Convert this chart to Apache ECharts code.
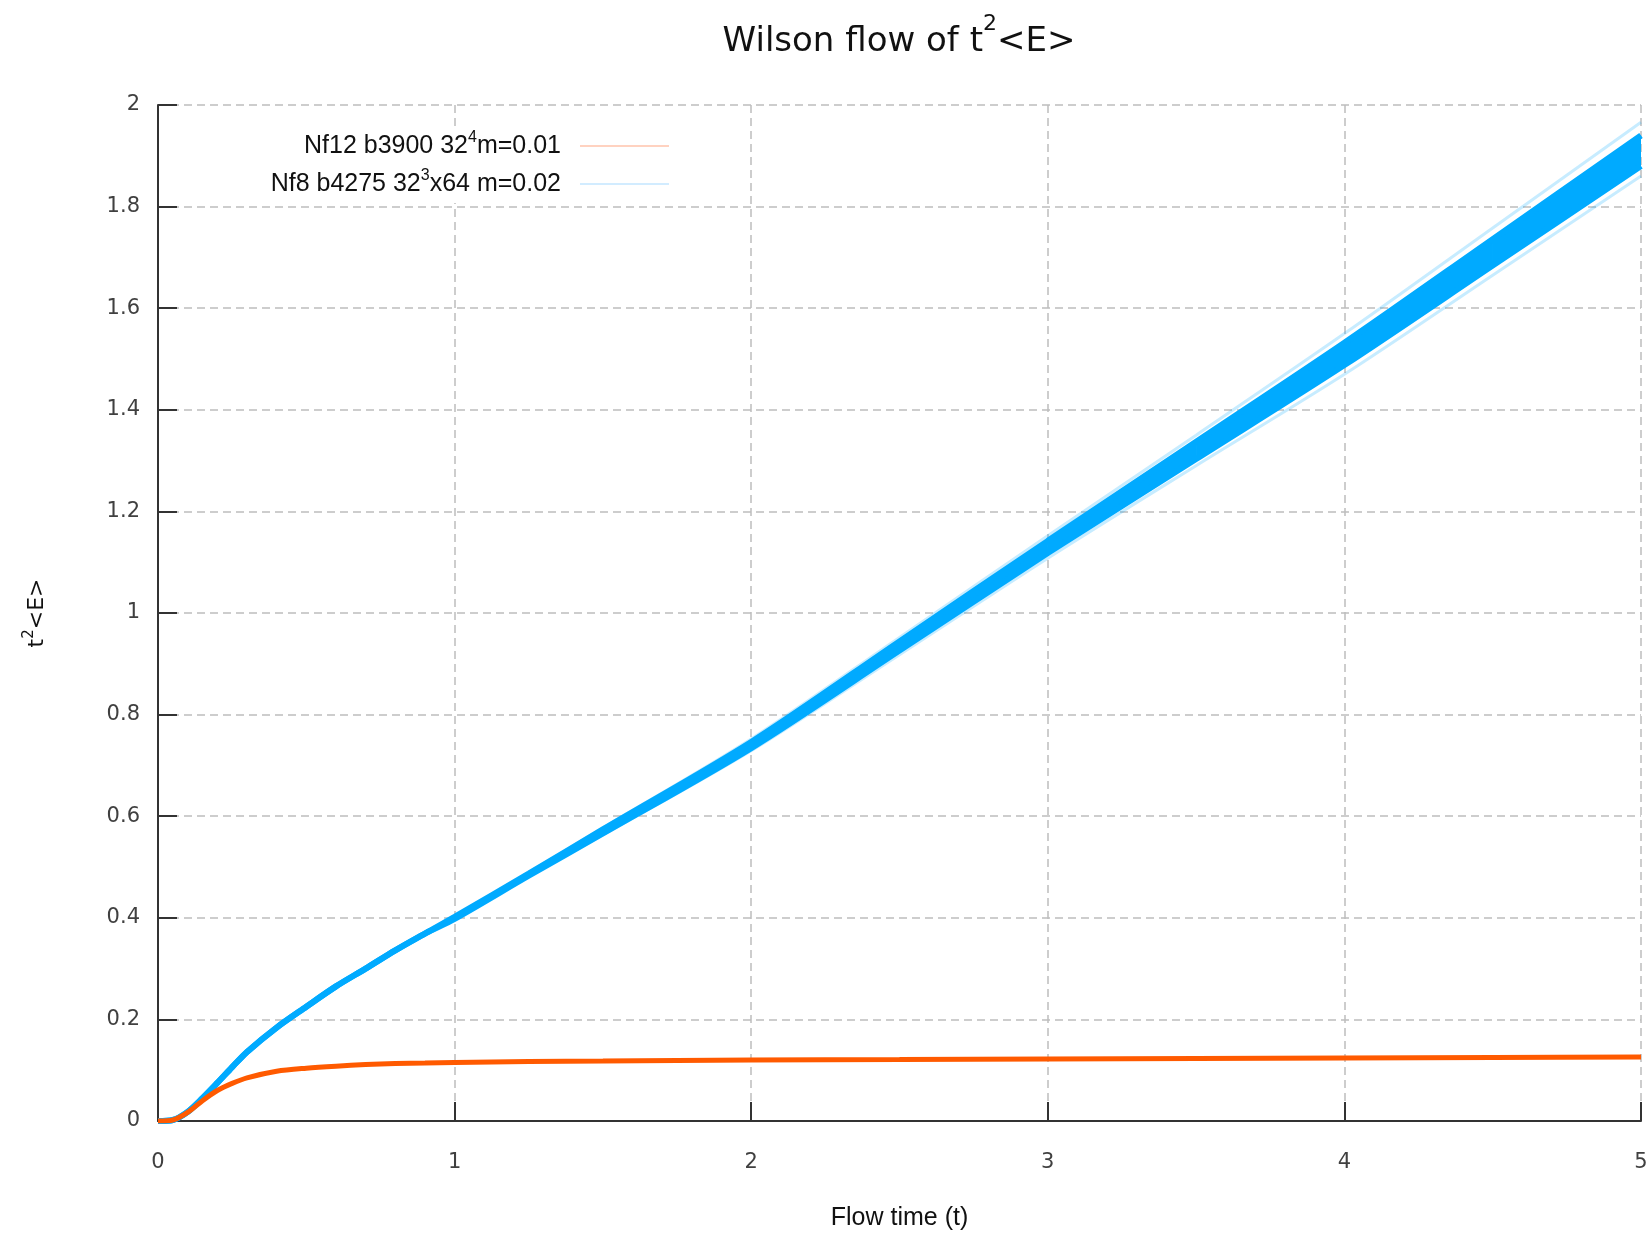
<!DOCTYPE html>
<html>
<head>
<meta charset="utf-8">
<title>Wilson flow of t2&lt;E&gt;</title>
<script src="https://cdn.jsdelivr.net/npm/echarts@6/dist/echarts.min.js"></script>
<style>
  html, body { margin: 0; padding: 0; background: #fff; }
  #chart { width: 1649px; height: 1235px; }
</style>
</head>
<body>
<div id="chart"></div>
<script>
// flow time samples (x)
const flowTime = [0, 0.05, 0.1, 0.15, 0.2, 0.25, 0.3, 0.4, 0.5, 0.6, 0.7, 0.8, 0.9, 1.0, 1.25, 1.5, 2.0, 2.5, 3.0, 3.5, 4.0, 4.5, 5.0]

// Nf12 b3900 32^4 m=0.01
const nf12 = [0, 0.002, 0.017, 0.040, 0.060, 0.074, 0.085, 0.098, 0.104, 0.108, 0.111, 0.113, 0.114, 0.115, 0.117, 0.118, 0.120, 0.121, 0.122, 0.123, 0.124, 0.125, 0.126]

// Nf8 b4275 32^3x64 m=0.02 : dense band of samples
const nf8Upper = [0, 0.002, 0.018, 0.045, 0.075, 0.106, 0.136, 0.184, 0.225, 0.265, 0.300, 0.336, 0.369, 0.402, 0.487, 0.574, 0.746, 0.944, 1.142, 1.337, 1.532, 1.736, 1.940]
const nf8Lower = [0, 0.002, 0.018, 0.045, 0.075, 0.106, 0.136, 0.184, 0.225, 0.265, 0.300, 0.336, 0.369, 0.398, 0.483, 0.566, 0.734, 0.926, 1.118, 1.303, 1.488, 1.684, 1.880]
// faint outlying samples
const nf8OuterUpper = [0, 0.002, 0.018, 0.045, 0.075, 0.106, 0.136, 0.184, 0.225, 0.265, 0.300, 0.336, 0.369, 0.403, 0.489, 0.577, 0.752, 0.952, 1.152, 1.350, 1.550, 1.758, 1.966]
const nf8OuterLower = [0, 0.002, 0.018, 0.045, 0.075, 0.106, 0.136, 0.184, 0.225, 0.265, 0.300, 0.336, 0.369, 0.397, 0.481, 0.563, 0.729, 0.918, 1.108, 1.290, 1.470, 1.665, 1.860]

const orangeName = 'Nf12 b3900 32^4m=0.01'
const blueName = 'Nf8 b4275 32^3x64 m=0.02'
const legendLabels = {
  [orangeName]: 'Nf12 b3900 32{sup|4}m=0.01',
  [blueName]: 'Nf8 b4275 32{sup|3}x64 m=0.02',
}

const pairs = (ys) => flowTime.map((t, i) => [t, ys[i]])

// one row per segment: [t0, lo0, hi0, t1, lo1, hi1]
const bandRows = flowTime.slice(0, -1).map((t, i) => [
  t, nf8Lower[i], nf8Upper[i],
  flowTime[i + 1], nf8Lower[i + 1], nf8Upper[i + 1],
])

const BLUE = '#00aaff'
const ORANGE = '#ff5a00'
const AXIS = '#333333'

const lineBase = {
  type: 'line',
  symbol: 'none',
  showSymbol: false,
  smooth: 0.3,
  silent: true,
}

function renderBand(params, api) {
  const a = api.coord([api.value(0), api.value(1)])
  const b = api.coord([api.value(3), api.value(4)])
  const c = api.coord([api.value(3), api.value(5)])
  const d = api.coord([api.value(0), api.value(2)])
  return {
    type: 'polygon',
    shape: { points: [a, b, c, d] },
    style: { fill: BLUE, stroke: BLUE, lineWidth: 1 },
  }
}

function legendBox(name, top, color) {
  return {
    data: [{ name, itemStyle: { color } }],
    selectedMode: false,
    right: 970,
    top,
    align: 'right',
    icon: 'rect',
    itemWidth: 89,
    itemHeight: 2,
    padding: [3, 10, 3, 10],
    backgroundColor: '#ffffff',
    z: 10,
    formatter: (n) => legendLabels[n],
    textStyle: {
      color: '#111',
      fontFamily: 'Liberation Sans',
      fontSize: 25,
      lineHeight: 32,
      padding: [0, 14, 0, 0],
      rich: {
        sup: { fontSize: 16, lineHeight: 16, verticalAlign: 'top', fontFamily: 'Liberation Sans', color: '#111' },
      },
    },
  }
}

const chart = echarts.init(document.getElementById('chart'))

chart.setOption({
  animation: false,
  backgroundColor: '#ffffff',
  title: {
    text: 'Wilson flow of t{sup|2}<E>',
    left: 899,
    top: 13,
    padding: 0,
    textAlign: 'center',
    textStyle: {
      color: '#111',
      fontFamily: 'DejaVu Sans',
      fontSize: 34,
      fontWeight: 'normal',
      lineHeight: 58,
      rich: {
        sup: { fontSize: 22, lineHeight: 22, verticalAlign: 'top', fontFamily: 'DejaVu Sans', color: '#111' },
      },
    },
  },
  legend: [
    legendBox(orangeName, 127, '#ffd2c0'),
    legendBox(blueName, 165, '#d2ecff'),
  ],
  grid: { left: 158, right: 8, top: 105, bottom: 114, containLabel: false, outerBoundsMode: 'none' },
  xAxis: {
    type: 'value',
    min: 0,
    max: 5,
    interval: 1,
    name: 'Flow time (t)',
    nameLocation: 'middle',
    nameGap: 85,
    nameTextStyle: { color: '#111', fontFamily: 'Liberation Sans', fontSize: 25 },
    axisLine: { show: true, onZero: false, lineStyle: { color: AXIS, width: 2 } },
    axisTick: { show: true, inside: true, length: 19, lineStyle: { color: AXIS, width: 2 } },
    axisLabel: { color: '#404040', fontFamily: 'DejaVu Sans', fontSize: 21, margin: 31 },
    splitLine: { show: true, lineStyle: { color: '#bdbdbd', width: 1.5, type: [8, 5] } },
  },
  yAxis: {
    type: 'value',
    min: 0,
    max: 2,
    interval: 0.2,
    name: 't{sup|2}<E>',
    nameLocation: 'middle',
    nameRotate: 90,
    nameGap: 106,
    nameTextStyle: {
      color: '#111',
      fontFamily: 'DejaVu Sans',
      fontSize: 22,
      lineHeight: 30,
      rich: {
        sup: { fontSize: 15, lineHeight: 15, verticalAlign: 'top', fontFamily: 'DejaVu Sans', color: '#111' },
      },
    },
    axisLine: { show: true, onZero: false, lineStyle: { color: AXIS, width: 2 } },
    axisTick: { show: true, inside: true, length: 19, lineStyle: { color: AXIS, width: 2 } },
    axisLabel: { color: '#404040', fontFamily: 'DejaVu Sans', fontSize: 21, margin: 18 },
    splitLine: { show: true, lineStyle: { color: '#bdbdbd', width: 1.5, type: [8, 5] } },
  },
  series: [
    { ...lineBase, name: blueName, data: pairs(nf8OuterUpper), lineStyle: { color: BLUE, width: 3, opacity: 0.22 }, z: 2 },
    { ...lineBase, name: blueName, data: pairs(nf8OuterLower), lineStyle: { color: BLUE, width: 3, opacity: 0.22 }, z: 2 },
    {
      type: 'custom',
      name: blueName,
      silent: true,
      clip: true,
      data: bandRows,
      encode: { x: [0, 3], y: [1, 2, 4, 5] },
      renderItem: renderBand,
      z: 3,
    },
    { ...lineBase, name: blueName, data: pairs(nf8Lower), lineStyle: { color: BLUE, width: 6 }, z: 3 },
    { ...lineBase, name: blueName, data: pairs(nf8Upper), lineStyle: { color: BLUE, width: 6 }, z: 3 },
    { ...lineBase, name: orangeName, data: pairs(nf12), lineStyle: { color: ORANGE, width: 5 }, z: 4 },
  ],
})
</script>
</body>
</html>
